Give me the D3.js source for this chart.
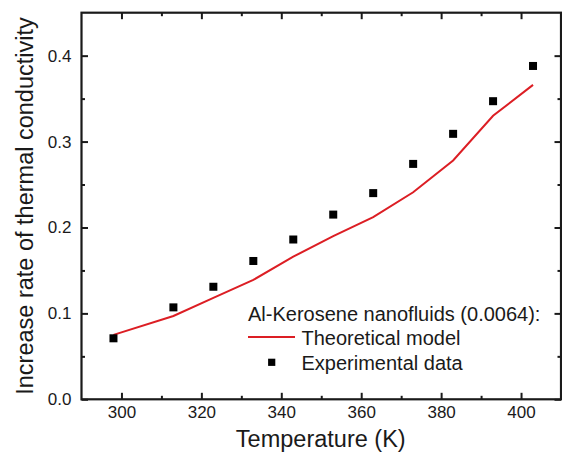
<!DOCTYPE html>
<html>
<head>
<meta charset="utf-8">
<script src="https://cdn.jsdelivr.net/npm/d3@7"></script>
<style>
  body { margin: 0; background: #fff; }
  svg { display: block; font-family: "Liberation Sans", Arial, sans-serif; }
</style>
</head>
<body>
<div id="chart"></div>
<script>
  // Temperatures (K) where data was taken
  var temps = [298, 313, 323, 333, 343, 353, 363, 373, 383, 393, 403];
  // Theoretical model curve
  var theoryValues = [0.075, 0.097, 0.118, 0.139, 0.166, 0.190, 0.212, 0.241, 0.278, 0.330, 0.366];
  // Experimental points
  var expValues = [0.071, 0.107, 0.131, 0.161, 0.186, 0.215, 0.240, 0.274, 0.309, 0.347, 0.388];

  var xTicks = [300, 320, 340, 360, 380, 400];
  var xMinor = [310, 330, 350, 370, 390];
  var yTicks = [0.0, 0.1, 0.2, 0.3, 0.4];
  var yMinor = [0.05, 0.15, 0.25, 0.35];

  var legendTitle = "Al-Kerosene nanofluids (0.0064):";
  var legendLabels = ["Theoretical model", "Experimental data"];

  var width = 562, height = 455;
  var margin = { top: 12.7, right: 1, bottom: 55.7, left: 81.5 };
  var innerW = width - margin.left - margin.right;
  var innerH = height - margin.top - margin.bottom;

  var red = "#dc1e24";
  var ink = "#1a1a1a";

  var svg = d3.select("#chart").append("svg")
    .attr("width", width)
    .attr("height", height);

  var g = svg.append("g")
    .attr("transform", `translate(${margin.left}, ${margin.top})`);

  var x = d3.scaleLinear().domain([290, 410]).range([0, innerW]);
  var y = d3.scaleLinear().domain([0, 0.45]).range([innerH, 0]);

  // Style helper for the axes (inward ticks, no domain path)
  function styleAxis(sel) {
    sel.select(".domain").remove();
    sel.selectAll("line").attr("stroke", ink).attr("stroke-width", 2);
    sel.selectAll("text")
      .attr("fill", ink)
      .style("font-size", "17px")
      .style("font-family", "'Liberation Sans', Arial, sans-serif");
  }

  // bottom axis with labels
  g.append("g")
    .attr("transform", `translate(0, ${innerH})`)
    .call(d3.axisBottom(x).tickValues(xTicks).tickSize(-6.5).tickPadding(7).tickFormat(d3.format("d")))
    .call(styleAxis);
  g.append("g")
    .attr("transform", `translate(0, ${innerH})`)
    .call(d3.axisBottom(x).tickValues(xMinor).tickSize(-3.5).tickFormat(""))
    .call(styleAxis);

  // top axis, ticks only
  g.append("g")
    .call(d3.axisTop(x).tickValues(xTicks).tickSize(-6.5).tickFormat(""))
    .call(styleAxis);
  g.append("g")
    .call(d3.axisTop(x).tickValues(xMinor).tickSize(-3.5).tickFormat(""))
    .call(styleAxis);

  // left axis with labels
  g.append("g")
    .call(d3.axisLeft(y).tickValues(yTicks).tickSize(-6.5).tickPadding(10).tickFormat(d3.format(".1f")))
    .call(styleAxis);
  g.append("g")
    .call(d3.axisLeft(y).tickValues(yMinor).tickSize(-3.5).tickFormat(""))
    .call(styleAxis);

  // right axis, ticks only
  g.append("g")
    .attr("transform", `translate(${innerW}, 0)`)
    .call(d3.axisRight(y).tickValues(yTicks).tickSize(-6.5).tickFormat(""))
    .call(styleAxis);
  g.append("g")
    .attr("transform", `translate(${innerW}, 0)`)
    .call(d3.axisRight(y).tickValues(yMinor).tickSize(-3.5).tickFormat(""))
    .call(styleAxis);

  // frame
  g.append("rect")
    .attr("width", innerW)
    .attr("height", innerH)
    .attr("fill", "none")
    .attr("stroke", ink)
    .attr("stroke-width", 2.2);

  // theoretical line
  var line = d3.line()
    .x((d, i) => x(temps[i]))
    .y(d => y(d));

  g.append("path")
    .datum(theoryValues)
    .attr("fill", "none")
    .attr("stroke", red)
    .attr("stroke-width", 2)
    .attr("d", line);

  // experimental squares
  var sq = 8;
  g.selectAll(".exp")
    .data(expValues)
    .enter().append("rect")
    .attr("class", "exp")
    .attr("x", (d, i) => x(temps[i]) - sq / 2)
    .attr("y", d => y(d) - sq / 2)
    .attr("width", sq)
    .attr("height", sq)
    .attr("fill", "#000");

  // legend
  var legend = svg.append("g").attr("transform", "translate(248, 0)");
  legend.append("text")
    .attr("x", 0).attr("y", 320.5)
    .attr("fill", ink)
    .style("font-size", "20px")
    .text(legendTitle);

  legend.append("line")
    .attr("x1", 0).attr("x2", 47)
    .attr("y1", 337).attr("y2", 337)
    .attr("stroke", red).attr("stroke-width", 2);
  legend.append("text")
    .attr("x", 53.5).attr("y", 345)
    .attr("fill", ink)
    .style("font-size", "20px")
    .text(legendLabels[0]);

  legend.append("rect")
    .attr("x", 23.7 - 3.6).attr("y", 362.3 - 3.6)
    .attr("width", 7.2).attr("height", 7.2)
    .attr("fill", "#000");
  legend.append("text")
    .attr("x", 53.5).attr("y", 370)
    .attr("fill", ink)
    .style("font-size", "20px")
    .text(legendLabels[1]);

  // axis titles
  svg.append("text")
    .attr("x", margin.left + x(350) - 0.5)
    .attr("y", 447)
    .attr("text-anchor", "middle")
    .attr("fill", ink)
    .style("font-size", "23.5px")
    .text("Temperature (K)");

  svg.append("text")
    .attr("transform", "rotate(-90)")
    .attr("x", -206)
    .attr("y", 33)
    .attr("text-anchor", "middle")
    .attr("fill", ink)
    .style("font-size", "23.5px")
    .text("Increase rate of thermal conductivity");
</script>
</body>
</html>
